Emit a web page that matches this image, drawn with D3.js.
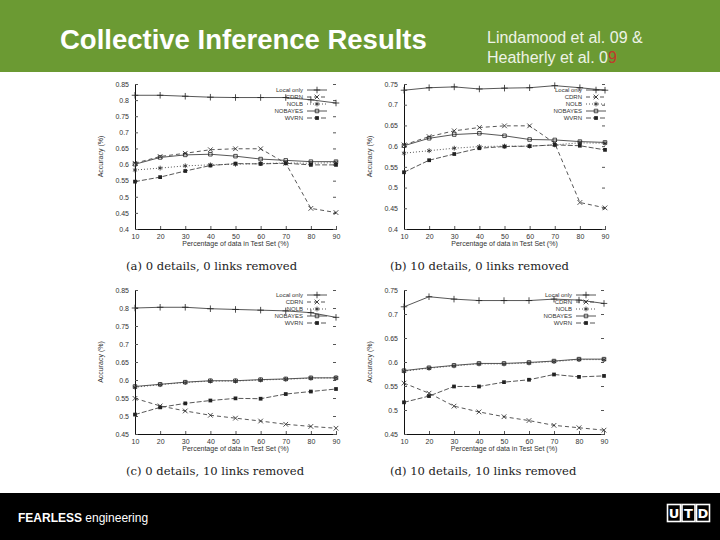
<!DOCTYPE html>
<html>
<head>
<meta charset="utf-8">
<script src="https://cdn.jsdelivr.net/npm/d3@7"></script>
<style>
  body { margin: 0; background: #fff; }
  svg { display: block; }
</style>
</head>
<body>
<div id="chart"></div>
<script>
// data
const pctTest = [10, 20, 30, 40, 50, 60, 70, 80, 90];
const seriesNames = ["Local only", "CDRN", "NOLB", "NOBAYES", "WVRN"];

// (a) 0 details, 0 links removed
const aLocal   = [0.815, 0.815, 0.812, 0.809, 0.808, 0.808, 0.808, 0.801, 0.791];
const aCDRN    = [0.604, 0.625, 0.635, 0.646, 0.649, 0.649, 0.604, 0.464, 0.451];
const aNOLB    = [0.583, 0.589, 0.596, 0.599, 0.601, 0.603, 0.605, 0.604, 0.606];
const aNOBAYES = [0.601, 0.622, 0.630, 0.632, 0.626, 0.617, 0.613, 0.609, 0.609];
const aWVRN    = [0.547, 0.561, 0.580, 0.597, 0.603, 0.602, 0.604, 0.599, 0.599];
// (b) 10 details, 0 links removed
const bLocal   = [0.735, 0.741, 0.743, 0.738, 0.740, 0.741, 0.746, 0.741, 0.735];
const bCDRN    = [0.603, 0.623, 0.637, 0.645, 0.649, 0.649, 0.607, 0.464, 0.451];
const bNOLB    = [0.583, 0.589, 0.595, 0.599, 0.600, 0.600, 0.603, 0.608, 0.607];
const bNOBAYES = [0.601, 0.619, 0.628, 0.631, 0.625, 0.616, 0.615, 0.611, 0.609];
const bWVRN    = [0.537, 0.566, 0.581, 0.595, 0.599, 0.600, 0.603, 0.601, 0.591];
// (c) 0 details, 10 links removed
const cLocal   = [0.800, 0.802, 0.802, 0.798, 0.796, 0.794, 0.792, 0.787, 0.774];
const cCDRN    = [0.549, 0.528, 0.514, 0.502, 0.494, 0.486, 0.477, 0.471, 0.466];
const cNOLB    = [0.580, 0.587, 0.593, 0.597, 0.597, 0.600, 0.602, 0.605, 0.606];
const cNOBAYES = [0.582, 0.588, 0.594, 0.598, 0.598, 0.601, 0.603, 0.606, 0.606];
const cWVRN    = [0.504, 0.524, 0.535, 0.543, 0.549, 0.548, 0.561, 0.568, 0.575];
// (d) 10 details, 10 links removed
const dLocal   = [0.715, 0.736, 0.731, 0.728, 0.728, 0.728, 0.731, 0.729, 0.722];
const dCDRN    = [0.556, 0.535, 0.508, 0.496, 0.486, 0.478, 0.468, 0.463, 0.458];
const dNOLB    = [0.581, 0.587, 0.592, 0.596, 0.596, 0.598, 0.601, 0.605, 0.605];
const dNOBAYES = [0.582, 0.588, 0.593, 0.597, 0.597, 0.599, 0.602, 0.606, 0.606];
const dWVRN    = [0.516, 0.529, 0.549, 0.549, 0.558, 0.563, 0.574, 0.569, 0.571];

const yTicksA = [0.4, 0.45, 0.5, 0.55, 0.6, 0.65, 0.7, 0.75, 0.8, 0.85];
const yTicksB = [0.4, 0.45, 0.5, 0.55, 0.6, 0.65, 0.7, 0.75];
const yTicksC = [0.45, 0.5, 0.55, 0.6, 0.65, 0.7, 0.75, 0.8, 0.85];
const yTicksD = [0.45, 0.5, 0.55, 0.6, 0.65, 0.7, 0.75];

const captions = ["(a) 0 details, 0 links removed", "(b) 10 details, 0 links removed",
                  "(c) 0 details, 10 links removed", "(d) 10 details, 10 links removed"];

// constants
const w = 720, h = 540;

const svg = d3.select("#chart").append("svg")
  .attr("width", w).attr("height", h);

// header / footer
svg.append("rect").attr("width", w).attr("height", 72).attr("fill", "#6b9a33");
svg.append("text").attr("x", 60).attr("y", 49)
  .attr("font-family", "Liberation Sans, Arial, sans-serif")
  .attr("font-weight", "bold").attr("font-size", 27.5).attr("fill", "#fff")
  .text("Collective Inference Results");
svg.append("text").attr("x", 487).attr("y", 43)
  .attr("font-family", "Liberation Sans, Arial, sans-serif")
  .attr("font-size", 16).attr("fill", "#eef3e6")
  .text("Lindamood et al. 09 &");
let t2 = svg.append("text").attr("x", 487).attr("y", 63)
  .attr("font-family", "Liberation Sans, Arial, sans-serif")
  .attr("font-size", 16).attr("fill", "#eef3e6");
t2.append("tspan").text("Heatherly et al. 0");
t2.append("tspan").attr("fill", "#c0392b").text("9");

svg.append("rect").attr("y", 493).attr("width", w).attr("height", 47).attr("fill", "#000");
let ft = svg.append("text").attr("x", 18).attr("y", 522)
  .attr("font-family", "Liberation Sans, Arial, sans-serif")
  .attr("font-size", 12).attr("fill", "#fff");
ft.append("tspan").attr("font-weight", "bold").text("FEARLESS");
ft.append("tspan").text(" engineering");
// UTD logo
const logo = svg.append("g").attr("transform", "translate(667,504)");
["U", "T", "D"].forEach((c, i) => {
  logo.append("rect").attr("x", i * 14.5 + 0.5).attr("y", 0.5).attr("width", 13).attr("height", 17)
    .attr("fill", "none").attr("stroke", "#fff").attr("stroke-width", 1.6);
  logo.append("text").attr("x", i * 14.5 + 7).attr("y", 14)
    .attr("text-anchor", "middle").attr("font-family", "DejaVu Sans, sans-serif")
    .attr("font-weight", "bold").attr("font-size", 13).attr("fill", "#fff").text(c);
});

// series styles (gnuplot-like)
const styles = [
  { dash: null,    sym: d3.symbolPlus,     fill: "none" },
  { dash: "4,3",   sym: d3.symbolTimes,    fill: "none" },
  { dash: "1,2",   sym: d3.symbolAsterisk, fill: "none" },
  { dash: null,    sym: d3.symbolSquare2,  fill: "none" },
  { dash: "5,2",   sym: d3.symbolSquare,   fill: "#222" }
];

const panels = [
  { x0: 135, x1: 336, y0: 84,  y1: 229, dom: [0.4, 0.85],  ticks: yTicksA, ser: [aLocal, aCDRN, aNOLB, aNOBAYES, aWVRN], leg: [303, 90] },
  { x0: 404, x1: 605, y0: 84,  y1: 229, dom: [0.4, 0.75],  ticks: yTicksB, ser: [bLocal, bCDRN, bNOLB, bNOBAYES, bWVRN], leg: [582, 90] },
  { x0: 135, x1: 336, y0: 290, y1: 434, dom: [0.45, 0.85], ticks: yTicksC, ser: [cLocal, cCDRN, cNOLB, cNOBAYES, cWVRN], leg: [303, 295] },
  { x0: 404, x1: 604, y0: 290, y1: 434, dom: [0.45, 0.75], ticks: yTicksD, ser: [dLocal, dCDRN, dNOLB, dNOBAYES, dWVRN], leg: [572, 295] }
];

const ink = "#333";
const font = "Liberation Sans, Arial, sans-serif";

panels.forEach((p, k) => {
  let g = svg.append("g");
  let x = d3.scaleLinear().domain([10, 90]).range([p.x0, p.x1]);
  let y = d3.scaleLinear().domain(p.dom).range([p.y1, p.y0]);

  // axes
  let xAxis = d3.axisBottom(x).tickValues(pctTest).tickSize(-3).tickPadding(5);
  let yAxis = d3.axisLeft(y).tickValues(p.ticks).tickSize(-3).tickPadding(6)
                .tickFormat(d => String(+d.toFixed(2)));
  g.append("g").attr("transform", `translate(0,${p.y1})`).call(xAxis);
  g.append("g").attr("transform", `translate(${p.x0},0)`).call(yAxis);
  // right side ticks
  g.append("g").attr("transform", `translate(${p.x1},0)`)
   .call(d3.axisRight(y).tickValues(p.ticks).tickSize(-3).tickFormat(""))
   .select(".domain").remove();
  g.selectAll(".tick text").attr("font-family", font).attr("font-size", 7).attr("fill", ink);
  g.selectAll(".domain").attr("stroke", "#111");
  g.selectAll(".tick line").attr("stroke", "#555");

  // axis titles
  g.append("text").attr("x", (p.x0 + p.x1) / 2).attr("y", p.y1 + 17)
   .attr("text-anchor", "middle").attr("font-family", font).attr("font-size", 7).attr("fill", ink)
   .text("Percentage of data in Test Set (%)");
  g.append("text").attr("transform", `translate(${p.x0 - 32},${(p.y0 + p.y1) / 2}) rotate(-90)`)
   .attr("text-anchor", "middle").attr("font-family", font).attr("font-size", 7).attr("fill", ink)
   .text("Accuracy (%)");

  // series
  let line = d3.line().x((d, i) => x(pctTest[i])).y(d => y(d));
  p.ser.forEach((vals, s) => {
    let st = styles[s];
    g.append("path").datum(vals).attr("d", line)
     .attr("fill", "none").attr("stroke", "#444").attr("stroke-width", 0.9)
     .attr("stroke-dasharray", st.dash);
    g.selectAll(null).data(vals).enter().append("path")
     .attr("transform", (d, i) => `translate(${x(pctTest[i])},${y(d)})`)
     .attr("d", d3.symbol(st.sym, st.sym === d3.symbolSquare ? 14 : 16))
     .attr("fill", st.fill).attr("stroke", st.fill === "none" ? "#222" : null).attr("stroke-width", 0.8);
  });

  // legend
  seriesNames.forEach((n, s) => {
    let st = styles[s];
    let ly = p.leg[1] + s * 7;
    g.append("text").attr("x", p.leg[0]).attr("y", ly + 2.2)
     .attr("text-anchor", "end").attr("font-family", font).attr("font-size", 6).attr("fill", ink)
     .text(n);
    g.append("line").attr("x1", p.leg[0] + 4).attr("x2", p.leg[0] + 24).attr("y1", ly).attr("y2", ly)
     .attr("stroke", "#444").attr("stroke-width", 0.9).attr("stroke-dasharray", st.dash);
    g.append("path").attr("transform", `translate(${p.leg[0] + 14},${ly})`)
     .attr("d", d3.symbol(st.sym, st.sym === d3.symbolSquare ? 14 : 16))
     .attr("fill", st.fill).attr("stroke", st.fill === "none" ? "#222" : null).attr("stroke-width", 0.8);
  });

  // caption
  g.append("text").attr("x", k % 2 === 0 ? 126 : 390).attr("y", p.y1 + 41)
   .attr("font-family", "DejaVu Serif, Liberation Serif, serif").attr("font-size", 11.6).attr("fill", "#222")
   .text(captions[k]);
});
</script>
</body>
</html>
